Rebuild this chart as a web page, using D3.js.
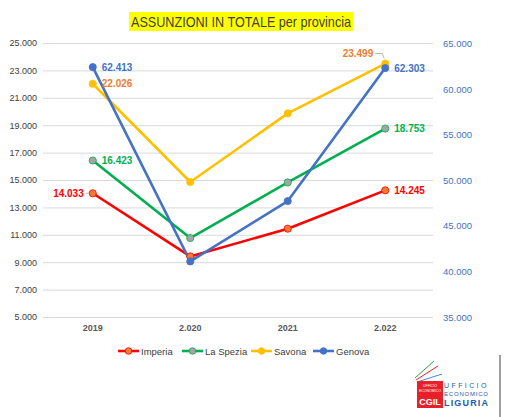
<!DOCTYPE html>
<html>
<head>
<meta charset="utf-8">
<script src="https://cdn.jsdelivr.net/npm/d3@7"></script>
<style>
body { margin: 0; background: #fff; }
svg { display: block; font-family: "Liberation Sans", Arial, sans-serif; }
</style>
</head>
<body>
<svg id="svg" width="516" height="417"></svg>
<script>
// data
var years = ["2019", "2.020", "2021", "2.022"];
var imperia = [14033, 9420, 11445, 14245];
var laSpezia = [16423, 10766, 14825, 18753];
var savona = [22026, 14854, 19860, 23499];
var genova = [62413, 41100, 47714, 62303];
var leftTicks = [5000, 7000, 9000, 11000, 13000, 15000, 17000, 19000, 21000, 23000, 25000];
var rightTicks = [35000, 40000, 45000, 50000, 55000, 60000, 65000];

var fmt = function(v) { return d3.format(",")(v).replace(/,/g, "."); };

var series = [
  { name: "Imperia", values: imperia, axis: "left", line: "#ff0000", marker: "#ed7d31", label: "#ff0000" },
  { name: "La Spezia", values: laSpezia, axis: "left", line: "#00b050", marker: "#a5a5a5", label: "#00b050" },
  { name: "Savona", values: savona, axis: "left", line: "#ffc000", marker: "#ffc000", label: "#ed7d31" },
  { name: "Genova", values: genova, axis: "right", line: "#4472c4", marker: "#4472c4", label: "#4472c4" }
];

var svg = d3.select('#svg');
svg.append('rect').attr('width', 516).attr('height', 417).attr('fill', '#fff');

const xScale = d3.scaleBand().domain(years).range([44, 434]);
const yLeft = d3.scaleLinear().domain([5000, 25000]).range([317, 43]);
const yRight = d3.scaleLinear().domain([35000, 65000]).range([317, 43.5]);
const cx = (d) => xScale(d) + xScale.bandwidth() / 2;

// title
svg.append('rect').attr('x', 129).attr('y', 12).attr('width', 224).attr('height', 19).attr('fill', '#ffff00');
svg.append('text')
  .attr('x', 131).attr('y', 27)
  .attr('font-size', 15)
  .attr('fill', '#404040')
  .attr('textLength', 220)
  .attr('lengthAdjust', 'spacingAndGlyphs')
  .text('ASSUNZIONI IN TOTALE per provincia');

//grid
svg.append('g')
  .attr('transform', 'translate(43,0)')
  .call(d3.axisLeft(yLeft).tickValues(leftTicks).tickSize(-390).tickFormat(''))
  .call(g => g.select('.domain').remove())
  .selectAll('line').attr('stroke', '#d9d9d9');

// left axis
svg.append('g')
  .attr('transform', 'translate(37,0)')
  .call(d3.axisLeft(yLeft).tickValues(leftTicks).tickSize(0).tickPadding(0).tickFormat(fmt))
  .call(g => g.select('.domain').remove())
  .selectAll('text')
  .attr('font-family', '"Liberation Sans", Arial, sans-serif')
  .attr('font-size', 9).attr('fill', '#404040');

// right axis
svg.append('g')
  .attr('transform', 'translate(443,0)')
  .call(d3.axisRight(yRight).tickValues(rightTicks).tickSize(0).tickPadding(0).tickFormat(fmt))
  .call(g => g.select('.domain').remove())
  .selectAll('text')
  .attr('font-family', '"Liberation Sans", Arial, sans-serif')
  .attr('font-size', 9.5).attr('fill', '#4472c4');

// x axis
svg.append('g')
  .attr('transform', 'translate(0,325)')
  .call(d3.axisBottom(xScale).tickSize(0).tickPadding(0))
  .call(g => g.select('.domain').remove())
  .selectAll('text')
  .attr('font-family', '"Liberation Sans", Arial, sans-serif')
  .attr('font-size', 9).attr('font-weight', 'bold').attr('fill', '#595959');

// lines
series.forEach(function(s) {
  var y = s.axis == "left" ? yLeft : yRight;
  var line = d3.line().x((d, i) => cx(years[i])).y((d) => y(d));
  svg.append('path')
    .datum(s.values)
    .attr('d', line)
    .attr('fill', 'none')
    .attr('stroke', s.line)
    .attr('stroke-width', 2.6)
    .attr('stroke-linejoin', 'round');
});
series.forEach(function(s) {
  var y = s.axis == "left" ? yLeft : yRight;
  svg.append('g').selectAll('circle')
    .data(s.values)
    .enter()
    .append('circle')
    .attr('cx', (d, i) => cx(years[i]))
    .attr('cy', (d) => y(d))
    .attr('r', 3.6)
    .attr('fill', s.marker)
    .attr('stroke', s.line)
    .attr('stroke-width', 0.8);
});

// data labels on first and last point
var labelPlace = {
  "Imperia": ["left", "right"],
  "La Spezia": ["right", "right"],
  "Savona": ["right", "aboveleft"],
  "Genova": ["right", "right"]
};
series.forEach(function(s) {
  var y = s.axis == "left" ? yLeft : yRight;
  [0, 3].forEach(function(i, k) {
    var px = cx(years[i]), py = y(s.values[i]);
    var place = labelPlace[s.name][k];
    var t = svg.append('text')
      .attr('font-size', 10).attr('font-weight', 'bold')
      .attr('fill', s.label)
      .text(fmt(s.values[i]));
    if (place == "right") {
      t.attr('x', px + 9).attr('y', py + 3.5);
    } else if (place == "left") {
      t.attr('x', px - 9).attr('y', py + 3.5).attr('text-anchor', 'end');
      svg.append('line').attr('x1', px - 7).attr('x2', px - 4).attr('y1', py).attr('y2', py)
        .attr('stroke', '#a6a6a6').attr('stroke-width', 0.8);
    } else {
      t.attr('x', px - 12).attr('y', py - 7).attr('text-anchor', 'end');
      svg.append('path').attr('d', 'M' + (px - 10) + ',' + (py - 10) + 'H' + (px - 3) + 'L' + (px - 1) + ',' + (py - 5))
        .attr('fill', 'none').attr('stroke', '#a6a6a6').attr('stroke-width', 0.8);
    }
  });
});

// legend
var legendX = [118, 182, 251, 313];
var legend = svg.append('g').selectAll('g')
  .data(series)
  .enter()
  .append('g')
  .attr('transform', (d, i) => 'translate(' + legendX[i] + ',351)');
legend.append('line').attr('x1', 0).attr('x2', 21).attr('stroke', (d) => d.line).attr('stroke-width', 2.6);
legend.append('circle').attr('cx', 10.5).attr('r', 3.3).attr('fill', (d) => d.marker).attr('stroke', (d) => d.line).attr('stroke-width', 0.8);
legend.append('text').attr('x', 23).attr('y', 3.5).attr('font-size', 9.5).attr('fill', '#404040').text((d) => d.name);

// logo
var logo = svg.append('g');
logo.append('line').attr('x1', 500).attr('x2', 500).attr('y1', 355).attr('y2', 417).attr('stroke', '#7f7f7f').attr('stroke-width', 1.5);
logo.append('line').attr('x1', 415).attr('y1', 378).attr('x2', 434).attr('y2', 361).attr('stroke', '#2ea043').attr('stroke-width', 1);
logo.append('line').attr('x1', 416).attr('y1', 380).attr('x2', 438).attr('y2', 366).attr('stroke', '#e8202a').attr('stroke-width', 1);
logo.append('line').attr('x1', 417).attr('y1', 382).attr('x2', 442).attr('y2', 374).attr('stroke', '#3a8dde').attr('stroke-width', 1);
logo.append('rect').attr('x', 417).attr('y', 381).attr('width', 26).attr('height', 27).attr('fill', '#e8202a');
logo.append('text').attr('x', 430).attr('y', 387).attr('text-anchor', 'middle').attr('font-size', 3.5).attr('fill', '#fff').text('UFFICIO');
logo.append('text').attr('x', 430).attr('y', 392).attr('text-anchor', 'middle').attr('font-size', 3.5).attr('fill', '#fff').text('ECONOMICO');
logo.append('text').attr('x', 430).attr('y', 405).attr('text-anchor', 'middle').attr('font-size', 9).attr('font-weight', 'bold').attr('fill', '#fff').text('CGIL');
logo.append('text').attr('x', 444).attr('y', 388).attr('font-size', 7).attr('letter-spacing', 2.4).attr('fill', '#1e5aa8').text('UFFICIO');
logo.append('text').attr('x', 444).attr('y', 396).attr('font-size', 6).attr('fill', '#1e5aa8').attr('textLength', 44).text('ECONOMICO');
logo.append('text').attr('x', 444).attr('y', 406).attr('font-size', 9).attr('font-weight', 'bold').attr('fill', '#1e5aa8').attr('textLength', 44).text('LIGURIA');
</script>
</body>
</html>
